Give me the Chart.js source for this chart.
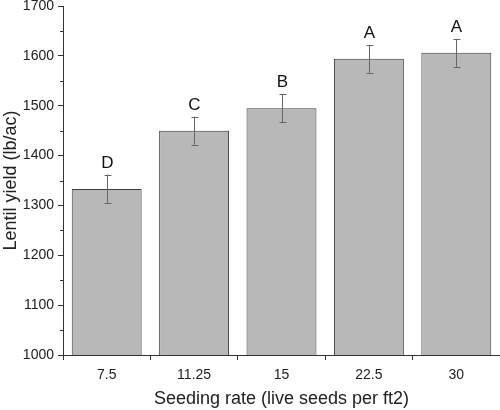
<!DOCTYPE html>
<html><head><meta charset="utf-8">
<script src="https://cdn.jsdelivr.net/npm/chart.js@4/dist/chart.umd.min.js"></script>
<style>html,body{margin:0;padding:0;background:#fff}#wrap{width:500px;height:410px}</style>
</head><body><div id="wrap"><canvas id="c" width="500" height="410"></canvas></div>
<script>
const categories = ["7.5", "11.25", "15", "22.5", "30"];
const yieldValues = [1333, 1450, 1495, 1594, 1606];
const errorValues = [29, 28, 28, 28, 28];
const letters = ["D", "C", "B", "A", "A"];
const yTicks = [1000, 1100, 1200, 1300, 1400, 1500, 1600, 1700];

const FONT = "'Liberation Sans', Arial, sans-serif";
const axisColor = "#333333";

const extras = {
  id: "extras",
  afterDatasetsDraw(chart) {
    const ctx = chart.ctx, x = chart.scales.x, y = chart.scales.y;
    ctx.save();
    ctx.strokeStyle = "#666666"; ctx.lineWidth = 1;
    yieldValues.forEach((v, i) => {
      const cx = Math.round(x.getPixelForValue(i)) + 0.5;
      const t = y.getPixelForValue(v + errorValues[i]);
      const b = y.getPixelForValue(v - errorValues[i]);
      ctx.beginPath();
      ctx.moveTo(cx, t); ctx.lineTo(cx, b);
      ctx.moveTo(cx - 3, Math.round(t) + 0.5); ctx.lineTo(cx + 4, Math.round(t) + 0.5);
      ctx.moveTo(cx - 3, Math.round(b) + 0.5); ctx.lineTo(cx + 4, Math.round(b) + 0.5);
      ctx.stroke();
      ctx.fillStyle = "#111";
      ctx.font = "17px " + FONT;
      ctx.textAlign = "center"; ctx.textBaseline = "bottom";
      ctx.fillText(letters[i], cx, t - 3);
    });
    ctx.strokeStyle = axisColor;
    const left = chart.chartArea.left;
    for (let k = 0; k < yTicks.length - 1; k++) {
      const py = Math.round(y.getPixelForValue((yTicks[k] + yTicks[k + 1]) / 2)) + 0.5;
      ctx.beginPath(); ctx.moveTo(left - 3, py); ctx.lineTo(left, py); ctx.stroke();
    }
    ctx.restore();
  }
};

new Chart(document.getElementById("c"), {
  type: "bar",
  data: {
    labels: categories,
    datasets: [{
      data: yieldValues,
      backgroundColor: "#b8b8b8",
      borderColor: "#3c3c3c",
      borderWidth: 1,
      barPercentage: 0.8,
      categoryPercentage: 1.0
    }]
  },
  options: {
    responsive: false,
    animation: false,
    layout: { padding: { top: 6, right: 0, left: 0, bottom: 0 } },
    plugins: { legend: { display: false }, tooltip: { enabled: false } },
    scales: {
      x: {
        offset: true,
        grid: { offset: true, drawOnChartArea: false, drawTicks: true, tickLength: 5, color: axisColor },
        border: { color: axisColor, width: 1 },
        ticks: { color: "#222", font: { family: FONT, size: 14 }, padding: 7 },
        title: { display: true, text: "Seeding rate (live seeds per ft2)", color: "#222", font: { family: FONT, size: 18 }, padding: { top: 4, bottom: 0 } },
        afterFit(s) { s.height = 55; s.paddingLeft = 0; s.paddingRight = 0; }
      },
      y: {
        min: 1000, max: 1700,
        afterBuildTicks(s) { s.ticks = yTicks.map(v => ({ value: v })); },
        grid: { drawOnChartArea: false, drawTicks: true, tickLength: 5, color: axisColor },
        border: { color: axisColor, width: 1 },
        ticks: { color: "#222", font: { family: FONT, size: 14 }, padding: 4, callback: (v) => String(v) },
        title: { display: true, text: "Lentil yield (lb/ac)", color: "#222", font: { family: FONT, size: 18 }, padding: { top: 0, bottom: 4 } },
        afterFit(s) { s.width = 63; s.paddingTop = 0; s.paddingBottom = 0; }
      }
    }
  },
  plugins: [extras]
});
</script></body></html>
